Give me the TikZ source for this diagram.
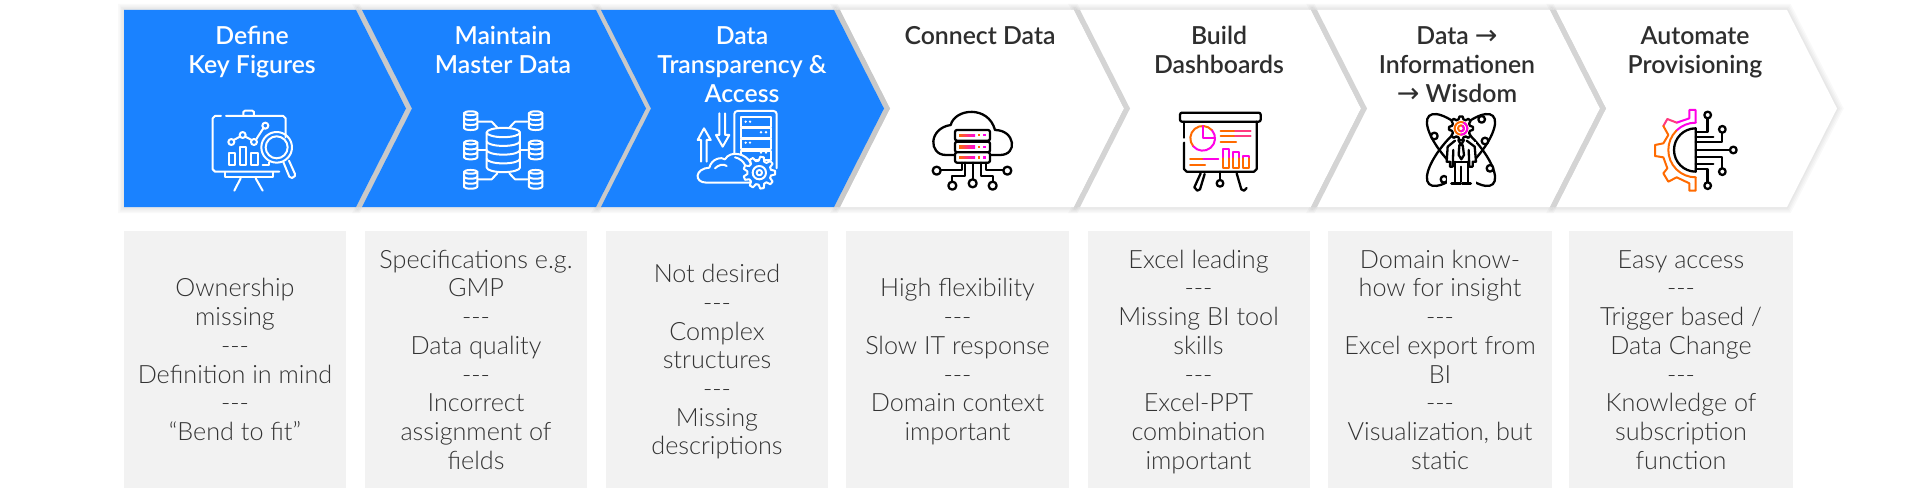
\documentclass[tikz,border=0pt]{standalone}
\usepackage{fontspec}
\setmainfont{Lato}
\newfontfamily\bodyface{Lato Light}
\newfontfamily\headface{Lato Semibold}
\newfontfamily\arrowface{DejaVu Sans}
\definecolor{chevblue}{HTML}{1A82FF}
\definecolor{barblue}{HTML}{C9C9C9}
\definecolor{barwhite}{HTML}{D4D4D4}
\definecolor{boxgray}{HTML}{F2F2F2}
\definecolor{txtdark}{HTML}{2E2E2E}
\definecolor{txtbody}{HTML}{333333}
\definecolor{ogc}{HTML}{FF6A00}
\definecolor{mgc}{HTML}{FF00E6}
\definecolor{midc}{HTML}{FF3A80}
\tikzset{
  headw/.style={align=center,text=white,inner sep=0pt,font=\headface\fontsize{24.8}{29}\selectfont,anchor=north},
  headd/.style={align=center,text=txtdark,inner sep=0pt,font=\headface\fontsize{24.8}{29}\selectfont,anchor=north},
  bodytxt/.style={align=center,text=txtbody,inner sep=0pt,font=\bodyface\fontsize{25.2}{28.7}\selectfont,anchor=center},
  iconw/.style={draw=white,line width=2pt,line cap=round,line join=round},
  iconk/.style={draw=black,line width=2.3pt,line cap=round,line join=round},
  icono/.style={draw=ogc,line width=2pt,line cap=round,line join=round},
  iconm/.style={draw=mgc,line width=2pt,line cap=round,line join=round},
  iconx/.style={draw=midc,line width=2pt,line cap=round,line join=round},
}
\newcommand\chevshadow[1]{%
  \foreach \w in {12,9,6,3}{\draw[black,opacity=.025,line width=\w pt,line join=miter] #1;}}
\newcommand\chevpath[2]{(#1,10)--(#2,10)--({#2+50},108.5)--(#2,207)--(#1,207)--({#1+50},108.5)--cycle}
\newcommand\chevbar[2]{\fill[#2] (#1,10)--({#1+6},10)--({#1+56},108.5)--({#1+6},207)--(#1,207)--({#1+50},108.5)--cycle;}
\newcommand\cylstack[5]{%
  \pgfmathsetmacro\cyt{#2-#4/2}\pgfmathsetmacro\cyb{#2+#4/2}\pgfmathsetmacro\ryy{#3*0.28}
  \draw[iconw] (#1,\cyt) ellipse [x radius=#3,y radius=\ryy];
  \draw[iconw] ({#1-#3},\cyt)--({#1-#3},\cyb) arc[start angle=180,end angle=360,x radius=#3,y radius=-\ryy]--({#1+#3},\cyt);
  \foreach \i in {1,...,#5}{
    \pgfmathsetmacro\yy{\cyt+\i*#4/(#5+1)}
    \draw[iconw] ({#1-#3},\yy) arc[start angle=180,end angle=360,x radius=#3,y radius=-\ryy];}
}
\newcommand\gearshape[7]{%
  \pgfmathsetmacro\gstep{360/#7}
  \draw[#1,fill=#2] ({#3+#6*cos(0.66*\gstep)},{#4+#6*sin(0.66*\gstep)})
   \foreach \t in {1,...,#7}{
     --({#3+#6*cos((\t-0.34)*\gstep)},{#4+#6*sin((\t-0.34)*\gstep)})
     --({#3+#5*cos((\t-0.16)*\gstep)},{#4+#5*sin((\t-0.16)*\gstep)})
     --({#3+#5*cos((\t+0.16)*\gstep)},{#4+#5*sin((\t+0.16)*\gstep)})
     --({#3+#6*cos((\t+0.34)*\gstep)},{#4+#6*sin((\t+0.34)*\gstep)})
  } --cycle;
}
\newcommand\bigarrow{{\arrowface\fontsize{27}{29}\selectfont →}}
\begin{document}
\begin{tikzpicture}[x=1pt,y=-1pt]
\useasboundingbox (0,0) rectangle (1918,500);
\fill[white] (0,0) rectangle (1918,500);

% soft shadows
\chevshadow{(124,10)--(356,10)--(406,108.5)--(356,207)--(124,207)--cycle}
\chevshadow{\chevpath{362}{596}}
\chevshadow{\chevpath{601}{834}}
\chevshadow{\chevpath{840}{1074}}
\chevshadow{\chevpath{1078}{1311}}
\chevshadow{\chevpath{1316}{1550}}
\chevshadow{\chevpath{1556}{1787}}

% chevrons
\fill[white] \chevpath{840}{1074};
\fill[white] \chevpath{1078}{1311};
\fill[white] \chevpath{1316}{1550};
\fill[white] \chevpath{1556}{1787};
\chevbar{1074}{barwhite}
\chevbar{1311}{barwhite}
\chevbar{1550}{barwhite}
\chevbar{356}{barblue}
\chevbar{596}{barblue}
\chevbar{834}{barblue}
\fill[chevblue] (124,10)--(356,10)--(406,108.5)--(356,207)--(124,207)--cycle;
\fill[chevblue] \chevpath{362}{596};
\fill[chevblue] \chevpath{601}{834};

% headers
\node[headw] (h1) at (252,23.7) {\strut Define\\Key Figures};
\node[headw] (h2) at (503,23.7) {\strut Maintain\\Master Data};
\node[headw] (h3) at (742,23.7) {\strut Data\\Transparency \&\\Access};
\node[headd] (h4) at (980,23.7) {\strut Connect Data};
\node[headd] (h5) at (1219,23.7) {\strut Build\\Dashboards};
\node[headd] (h6) at (1457,23.7) {\strut Data \bigarrow\\Informationen\\\bigarrow{} Wisdom};
\node[headd] (h7) at (1695,23.7) {\strut Automate\\Provisioning};

% boxes
\foreach \bl/\br in {124/346,365/587,605.5/828,846/1069,1087.5/1310,1328/1552,1569/1793}{
  \fill[boxgray] (\bl,231) rectangle (\br,488);}

\node[bodytxt] (b1) at (235,363) {\strut Ownership\\missing\\{-}{-}{-}\\Definition in mind\\{-}{-}{-}\\“Bend to fit”\strut};
\node[bodytxt] (b2) at (476,363) {\strut Specifications e.g.\\GMP\\{-}{-}{-}\\Data quality\\{-}{-}{-}\\Incorrect\\assignment of\\fields\strut};
\node[bodytxt] (b3) at (717,363) {\strut Not desired\\{-}{-}{-}\\Complex\\structures\\{-}{-}{-}\\Missing\\descriptions\strut};
\node[bodytxt] (b4) at (957.5,363) {\strut High flexibility\\{-}{-}{-}\\Slow IT response\\{-}{-}{-}\\Domain context\\important\strut};
\node[bodytxt] (b5) at (1198.5,363) {\strut Excel leading\\{-}{-}{-}\\Missing BI tool\\skills\\{-}{-}{-}\\Excel-PPT\\combination\\important\strut};
\node[bodytxt] (b6) at (1440,363) {\strut Domain know-\\how for insight\\{-}{-}{-}\\Excel export from\\BI\\{-}{-}{-}\\Visualization, but\\static\strut};
\node[bodytxt] (b7) at (1681,363) {\strut Easy access\\{-}{-}{-}\\Trigger based /\\Data Change\\{-}{-}{-}\\Knowledge of\\subscription\\function\strut};

% ---------- icon 1
\begin{scope}[shift={(190,100)},x=0.3333pt,y=-0.3333pt]
  \draw[iconw] (93,48)--(75,48)--(68,55)--(68,208)--(75,215)--(268,215);
  \draw[iconw] (108,48)--(280,48)--(287,55)--(287,112);
  \draw[iconw] (160,46)--(160,36)--(165,32)--(187,32)--(192,36)--(192,46);
  \draw[iconw] (105,217)--(105,232)--(250,232)--(250,218);
  \draw[iconw] (152,235)--(133,272);
  \draw[iconw] (197,235)--(218,272);
  \draw[iconw] (131,120)--(150,110) (166,110)--(185,120) (198,119)--(220,85);
  \foreach \p in {(124,126),(158,105),(192,126),(226,77)}{\draw[iconw] \p circle (9);}
  \draw[iconw] (116,160) rectangle (135,195);
  \draw[iconw] (150,140) rectangle (168,195);
  \draw[iconw] (184,160) rectangle (203,195);
  \draw[iconw] (218,195)--(236,195)--(236,187);
  \draw[iconw] (260,142) circle (46);
  \draw[iconw] (260,142) circle (33);
  \draw[iconw] (280,186)--(298,230)--(306,234)--(315,228)--(315,222)--(297,182);
\end{scope}

% ---------- icon 2
\begin{scope}[shift={(440,100)},x=0.3333pt,y=-0.3333pt]
  \cylstack{92}{62}{20}{45}{2}
  \cylstack{287}{62}{20}{45}{2}
  \cylstack{92}{150}{20}{45}{2}
  \cylstack{287}{150}{20}{45}{2}
  \cylstack{92}{238}{20}{45}{2}
  \cylstack{287}{238}{20}{45}{2}
  \cylstack{190}{150}{50}{105}{3}
  \draw[iconw] (115,65)--(155,65)--(172,83);
  \draw[iconw] (262,65)--(225,65)--(208,83);
  \draw[iconw] (115,150)--(138,150);
  \draw[iconw] (242,150)--(262,150);
  \draw[iconw] (115,238)--(155,238)--(172,220);
  \draw[iconw] (262,238)--(225,238)--(208,220);
\end{scope}

% ---------- icon 3
\begin{scope}[shift={(680,100)},x=0.3333pt,y=-0.3333pt]
  \draw[iconw,rounded corners=3pt] (163,205)--(163,33)--(290,33)--(290,205);
  \foreach \yt/\yb in {52/80,85/115,118/147,152/180}{\draw[iconw] (183,\yb)--(183,\yt)--(272,\yt)--(272,\yb)--cycle;}
  \foreach \px/\py in {197/65,210/65,243/97,258/97,197/128,210/128,243/158,258/158}{\fill[white] (\px,\py) circle (4);}
  \draw[iconw] (118,40)--(118,105)--(108,105)--(128,140)--(148,105)--(135,105)--(135,40);
  \draw[iconw] (63,185)--(63,120)--(53,120)--(72,85)--(92,120)--(80,120)--(80,185);
  \draw[iconw,fill=chevblue] (200,248)--(80,248) .. controls (40,248) and (45,205) .. (88,203) .. controls (95,175) and (125,170) .. (135,178) .. controls (150,150) and (200,160) .. (212,190)--(212,248)--cycle;
  \draw[iconw] (105,205) .. controls (115,195) and (130,190) .. (140,198);
  \draw[iconw] (165,172) .. controls (180,175) and (190,185) .. (195,195);
  \gearshape{iconw}{chevblue}{238}{218}{48}{36}{9}
  \draw[iconw] (238,218) circle (20);
  \draw[iconw] (238,218) circle (8);
\end{scope}

% ---------- icon 4
\begin{scope}[shift={(920,100)},x=0.3333pt,y=-0.3333pt]
  \draw[iconk] (105,165)--(78,165) .. controls (25,165) and (25,85) .. (92,75) .. controls (105,25) and (205,15) .. (225,90) .. controls (285,90) and (295,165) .. (240,165)--(210,165);
  \foreach \yt/\yb in {90/122,125/157,157/188}{\draw[iconk,rounded corners=2pt,fill=white] (105,\yt) rectangle (210,\yb);
    \pgfmathsetmacro\ym{(\yt+\yb)/2}
    \shade[left color=ogc,right color=mgc] (117,\ym-3.5) rectangle (165,\ym+3.5);
    \fill[ogc] (175,\ym-3.5) rectangle (181,\ym+3.5);
    \fill[mgc] (190,\ym-3.5) rectangle (197,\ym+3.5);}
  \draw[iconk] (125,188)--(125,210)--(62,210);
  \draw[iconk] (50,212) circle (12);
  \draw[iconk] (135,188)--(135,228)--(97,228)--(97,245);
  \draw[iconk] (97,257) circle (12);
  \draw[iconk] (158,188)--(158,237);
  \draw[iconk] (158,250) circle (12);
  \draw[iconk] (182,188)--(182,228)--(218,228)--(218,245);
  \draw[iconk] (218,257) circle (12);
  \draw[iconk] (197,188)--(197,210)--(250,210);
  \draw[iconk] (262,212) circle (12);
\end{scope}

% ---------- icon 5
\begin{scope}[shift={(1160,100)},x=0.3333pt,y=-0.3333pt]
  \draw[iconk,rounded corners=2pt] (60,38) rectangle (302,65);
  \draw[iconk] (72,65)--(72,113);
  \draw[iconk] (72,128)--(72,207)--(80,215)--(282,215)--(290,207)--(290,65);
  \draw[iconk] (122,220)--(103,262)--(112,272)--(120,268)--(134,222);
  \draw[iconk] (230,220)--(244,268)--(252,272)--(260,264);
  \draw[iconk] (180,215)--(180,240);
  \draw[iconk] (180,250) circle (10);
  \draw[icono] (128,115) +(140:37) arc[start angle=140,end angle=320,radius=37];
  \draw[iconm] (128,115) +(320:37) arc[start angle=320,end angle=500,radius=37];
  \draw[iconm] (128,78)--(128,115)--(165,115);
  \draw[icono] (182,93)--(225,93);
  \draw[iconx] (225,93)--(272,93);
  \draw[icono] (182,107)--(225,107);
  \draw[iconx] (225,107)--(272,107);
  \draw[icono] (182,125)--(228,125);
  \draw[icono] (90,178)--(130,178);
  \draw[iconm] (130,178)--(175,178);
  \draw[icono] (90,195)--(135,195);
  \foreach \xa/\xb/\yt in {188/207/147,218/237/155,248/267/168}{
    \draw[iconm] (\xa,175)--(\xa,\yt)--(\xb,\yt)--(\xb,175);
    \draw[icono] (\xa,175)--(\xa,205)--(\xb,205)--(\xb,175);}
\end{scope}

% ---------- icon 6
\begin{scope}[shift={(1400,100)},x=0.3333pt,y=-0.3333pt]
  \draw[iconk] (183,150) ellipse [x radius=140,y radius=50,rotate=47];
  \draw[iconk] (183,150) ellipse [x radius=140,y radius=50,rotate=-47];
  \foreach \p in {(103,108),(245,58),(255,123),(270,205),(132,238)}{\draw[iconk,fill=white] \p circle (10);}
  \fill[white] (140,125) rectangle (228,255);
  \gearshape{iconk}{white}{183}{85}{36}{28}{8}
  \draw[icono] (183,85) circle (9);
  \draw[icono] (183,85) circle (19);
  \draw[iconm] (183,85) +(90:19) arc[start angle=90,end angle=-60,radius=19];
  \draw[iconm] (183,85) +(90:9) arc[start angle=90,end angle=-60,radius=9];
  \draw[iconk] (165,122)--(143,140)--(140,185)--(150,185)--(150,200)--(158,200)--(160,150);
  \draw[iconk] (200,122)--(224,140)--(228,185)--(218,185)--(218,200)--(208,200)--(206,150);
  \draw[iconk] (160,185)--(206,185);
  \draw[iconk] (175,120)--(183,135)--(192,120);
  \draw[iconk] (178,135)--(188,135)--(192,165)--(184,178)--(176,165)--cycle;
  \draw[iconk] (165,185)--(165,245);
  \draw[iconk] (184,200)--(184,245);
  \draw[iconk] (203,185)--(203,245);
  \draw[iconk,line width=3pt] (155,250)--(182,250);
  \draw[iconk,line width=3pt] (187,250)--(212,250);
\end{scope}

% ---------- icon 7
\begin{scope}[shift={(1630,100)},x=0.3333pt,y=-0.3333pt]
  \draw[iconk] (197,85) arc[start angle=-90,end angle=-270,radius=65]--cycle;
  \draw[iconk] (197,95)--(232,95)--(232,57);
  \draw[iconk] (233,45) circle (10);
  \draw[iconk] (197,110)--(250,110);
  \draw[iconk] (197,127)--(277,127)--(277,100);
  \draw[iconk] (277,88) circle (10);
  \draw[iconk] (197,150)--(300,150);
  \draw[iconk] (310,150) circle (10);
  \draw[iconk] (197,172)--(277,172)--(277,203);
  \draw[iconk] (277,215) circle (10);
  \draw[iconk] (197,192)--(250,192);
  \draw[iconk] (197,207)--(232,207)--(232,245);
  \draw[iconk] (233,257) circle (10);
  % gear
  \draw[iconm] (197,68)--(197,30)--(178,30)--(178,55)--(140,68);
  \draw[iconx] (140,68)--(112,57)--(100,78);
  \draw[icono] (100,78)--(115,105)--(100,130)--(75,135)--(75,168)--(100,172)--(112,205)--(100,220)--(115,245)--(140,232)--(178,250)--(178,272)--(197,272)--(197,232);
  \draw[iconm] (197,150) +(-90:82) arc[start angle=-90,end angle=-135,radius=82];
  \draw[icono] (197,150) +(-135:82) arc[start angle=-135,end angle=-270,radius=82];
\end{scope}
\end{tikzpicture}
\end{document}
